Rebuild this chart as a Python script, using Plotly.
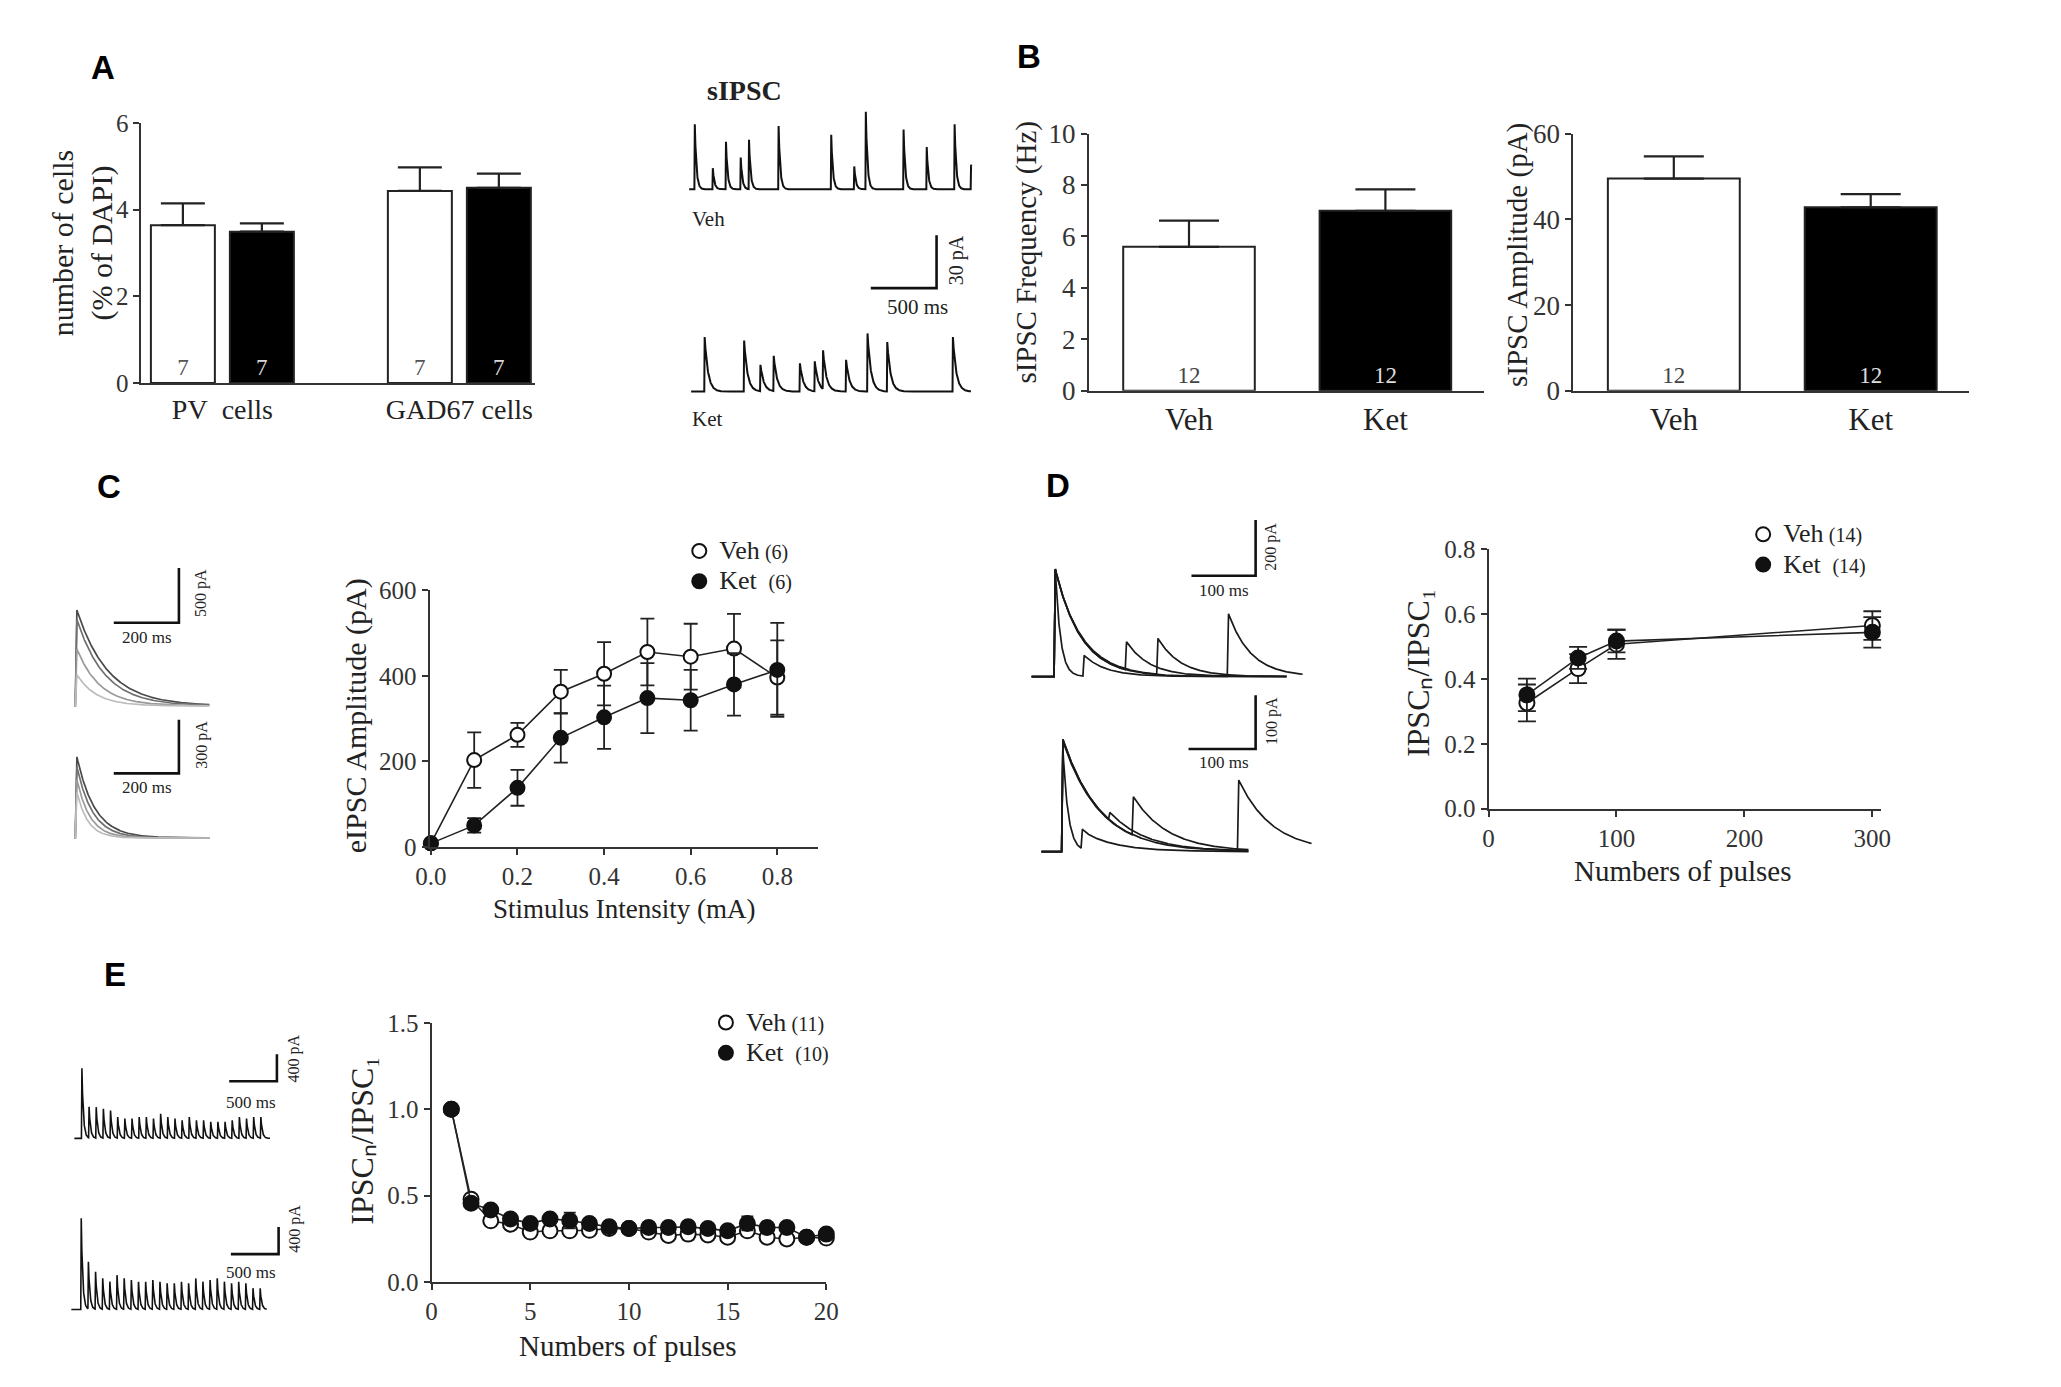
import numpy as np
import plotly.graph_objects as go

W, H = 2061, 1387
SERIF = "Liberation Serif"
SANS = "Liberation Sans"
INK = "#222222"

# ---------------- data ----------------
# A: cell counts
a_groups = ["PV\u00a0 cells", "GAD67 cells"]
a_veh_mean = [3.64, 4.43]
a_veh_sem = [0.50, 0.54]
a_ket_mean = [3.49, 4.50]
a_ket_sem = [0.19, 0.33]
a_n = [7, 7]

# A: sIPSC example traces (peak time ms, amplitude pA)
sipsc_veh_t = [43, 180, 280, 392, 455, 680, 1080, 1255, 1343, 1630, 1806, 2018, 2143]
sipsc_veh_a = [37, 12, 27, 18, 28, 36, 31, 13, 44, 34, 24, 37, 14]
sipsc_ket_t = [118, 418, 542, 643, 842, 955, 1018, 1193, 1356, 1506, 2005]
sipsc_ket_a = [31, 29, 15, 20, 16, 17, 22, 18, 33, 28, 31]
sipsc_scale = [500, 30]  # ms, pA

# B: sIPSC frequency / amplitude
b_groups = ["Veh", "Ket"]
b_freq_mean = [5.6, 7.0]
b_freq_sem = [1.02, 0.83]
b_amp_mean = [49.5, 42.8]
b_amp_sem = [5.2, 3.1]
b_n = [12, 12]

# C: eIPSC input-output
c_x = [0.0, 0.1, 0.2, 0.3, 0.4, 0.5, 0.6, 0.7, 0.8]
c_veh = [8, 203, 262, 363, 405, 456, 445, 464, 396]
c_veh_sem = [5, 65, 28, 51, 74, 78, 77, 81, 87]
c_ket = [8, 50, 138, 255, 303, 348, 343, 380, 414]
c_ket_sem = [5, 17, 42, 58, 74, 82, 71, 73, 110]
c_top_amp = [875, 790, 520, 285]
c_top_tau = [95, 85, 70, 60]
c_bot_amp = [453, 398, 327, 256]
c_bot_tau = [55, 48, 40, 34]
c_trace_colors = ["#4a4a4a", "#707070", "#9a9a9a", "#bcbcbc"]
c_top_scale = [200, 500]
c_bot_scale = [200, 300]

# D: paired pulse
d_x = [30, 70, 100, 300]
d_veh = [0.326, 0.432, 0.507, 0.565]
d_veh_sem = [0.057, 0.045, 0.045, 0.044]
d_ket = [0.351, 0.465, 0.517, 0.544]
d_ket_sem = [0.050, 0.034, 0.035, 0.047]
d_top_a1 = [386, 386, 380, 386]
d_top_tau1 = [8, 40, 42, 40]
d_top_t2 = [45, 111, 160, 270]
d_top_peak2 = [76, 125, 137, 225]
d_top_end = [398, 398, 398, 423]
d_bot_a1 = [190, 209, 205, 209]
d_bot_tau1 = [8, 55, 55, 55]
d_bot_t2 = [29, 70, 105, 262]
d_bot_peak2 = [42, 73, 102, 133]
d_bot_end = [309, 309, 309, 403]
d_top_scale = [100, 200]
d_bot_scale = [100, 100]

# E: train
e_x = list(range(1, 21))
e_veh = [1.0, 0.48, 0.355, 0.335, 0.29, 0.297, 0.297, 0.30, 0.31, 0.31,
         0.29, 0.27, 0.278, 0.273, 0.26, 0.297, 0.26, 0.25, 0.26, 0.255]
e_veh_sem = [0.0, 0.03, 0.02, 0.02, 0.02, 0.02, 0.02, 0.02, 0.02, 0.02,
             0.02, 0.02, 0.03, 0.02, 0.02, 0.03, 0.02, 0.03, 0.02, 0.02]
e_ket = [1.0, 0.457, 0.417, 0.366, 0.34, 0.366, 0.357, 0.34, 0.32, 0.31,
         0.316, 0.316, 0.32, 0.31, 0.297, 0.34, 0.316, 0.316, 0.26, 0.278]
e_ket_sem = [0.0, 0.03, 0.02, 0.02, 0.02, 0.02, 0.045, 0.02, 0.02, 0.025,
             0.03, 0.02, 0.025, 0.02, 0.02, 0.04, 0.02, 0.02, 0.02, 0.02]
e_top_amp = [1039, 459, 459, 435, 410, 314, 290, 290, 314, 314, 290, 362, 314,
             290, 265, 314, 265, 265, 242, 242, 242, 265, 314, 290, 314, 314]
e_bot_amp = [1352, 700, 555, 459, 410, 507, 459, 435, 410, 410, 435, 410, 387,
             387, 410, 387, 459, 410, 435, 459, 410, 387, 410, 387, 314, 314]
e_interval = 75
e_scale = [500, 400]

RATIO_TITLE = "IPSC\u2099/IPSC\u2081"

# ---------------- helpers ----------------
fig = go.Figure()
axes = {}
ann = []


def names(i):
    if i == 1:
        return "xaxis", "yaxis", "x", "y"
    return f"xaxis{i}", f"yaxis{i}", f"x{i}", f"y{i}"


def chart_axes(i, box, xr, yr, xextra, yextra):
    x0, x1, y0, y1 = box
    xn, yn, xa, ya = names(i)
    base = dict(showline=True, linecolor="#333333", linewidth=2, showgrid=False,
                zeroline=False, ticks="outside", ticklen=6, tickwidth=2,
                tickcolor="#333333", fixedrange=True)
    axes[xn] = dict(base, domain=[x0 / W, x1 / W], range=xr, anchor=ya, **xextra)
    axes[yn] = dict(base, domain=[1 - y1 / H, 1 - y0 / H], range=yr, anchor=xa, **yextra)
    return xa, ya


def canvas(i, box, origin, sx, sy):
    x0, x1, y0, y1 = box
    ox, oy = origin
    xn, yn, xa, ya = names(i)
    axes[xn] = dict(domain=[x0 / W, x1 / W], range=[(x0 - ox) / sx, (x1 - ox) / sx],
                    visible=False, anchor=ya, fixedrange=True)
    axes[yn] = dict(domain=[1 - y1 / H, 1 - y0 / H], range=[(oy - y1) / sy, (oy - y0) / sy],
                    visible=False, anchor=xa, fixedrange=True)
    conv = lambda px, py: ((px - ox) / sx, (oy - py) / sy)
    return xa, ya, conv


def psc(t, peaks, amps, tau, rise):
    y = np.zeros_like(t, dtype=float)
    for tp, a in zip(peaks, amps):
        d = t - (tp - rise)
        y += np.where(d < 0, 0.0, np.where(d < rise, a * d / rise, a * np.exp(-(d - rise) / tau)))
    return y


def line(xa, ya, x, y, color=INK, width=1.6):
    fig.add_trace(go.Scatter(x=x, y=y, mode="lines", line=dict(color=color, width=width),
                             xaxis=xa, yaxis=ya, showlegend=False, hoverinfo="skip"))


def scalebar(xa, ya, conv, corner_px, scale):
    cx, cy = conv(*corner_px)
    line(xa, ya, [cx - scale[0], cx, cx], [cy, cy, cy + scale[1]], color="#111111", width=2.6)


def txt(x, y, s, size, family=SERIF, angle=0, xanchor="center", color=INK):
    ann.append(dict(x=x / W, y=1 - y / H, xref="paper", yref="paper", text=s, showarrow=False,
                    font=dict(family=family, size=size, color=color), textangle=angle,
                    xanchor=xanchor, yanchor="middle"))


def bar(xa, ya, x, y, sem, colors, labels, label_colors, width, capw):
    fig.add_trace(go.Bar(x=x, y=y, width=width, xaxis=xa, yaxis=ya, showlegend=False,
                         marker=dict(color=colors, line=dict(color="#222", width=2)),
                         text=labels, textposition="inside", insidetextanchor="start",
                         textangle=0, constraintext="none",
                         textfont=dict(family=SERIF, size=23, color=label_colors),
                         error_y=dict(type="data", array=sem, arrayminus=[0] * len(sem),
                                      symmetric=False, color="#222", thickness=2.2, width=capw)))


# ---------------- A: bars ----------------
xa, ya = chart_axes(1, (121, 520, 102, 368), [-0.525, 4.46], [0, 6],
                    dict(ticks="", tickvals=[0.5, 3.5], ticktext=a_groups,
                         tickfont=dict(family=SERIF, size=28, color=INK)),
                    dict(tickvals=[0, 2, 4, 6], tickfont=dict(family=SERIF, size=25, color="#333")))
a_pos_veh = [3 * k for k in range(len(a_groups))]
a_pos_ket = [3 * k + 1 for k in range(len(a_groups))]
bar(xa, ya, a_pos_veh, a_veh_mean, a_veh_sem, "white", [str(n) for n in a_n], "#555", 0.81, 22)
bar(xa, ya, a_pos_ket, a_ket_mean, a_ket_sem, "black", [str(n) for n in a_n], "#d8d8d8", 0.81, 22)

# sIPSC traces
xa, ya, conv = canvas(7, (650, 1000, 60, 430), (676, 170), 0.1333, 1.8)
t = np.arange(0, 2145, 1.0)
line(xa, ya, t, psc(t, sipsc_veh_t, sipsc_veh_a, 12, 3), color="#111", width=2.0)
ket_base = conv(676, 376.7)[1]
t = np.arange(15, 2143, 1.0)
line(xa, ya, t, ket_base + psc(t, sipsc_ket_t, sipsc_ket_a, 25, 3), color="#111", width=2.0)
scalebar(xa, ya, conv, (926.7, 271), sipsc_scale)
txt(732, 69, "<b>sIPSC</b>", 28)
txt(677, 200, "Veh", 21, xanchor="left")
txt(677, 405, "Ket", 21, xanchor="left")
txt(947, 243, "30 pA", 20, angle=-90)
txt(907, 290, "500 ms", 21)

# ---------------- B ----------------
for i, box, mean, sem, yr, tv in [(2, (1081, 1481, 113, 376), b_freq_mean, b_freq_sem, [0, 10], [0, 2, 4, 6, 8, 10]),
                                  (3, (1572, 1973, 113, 376), b_amp_mean, b_amp_sem, [0, 60], [0, 20, 40, 60])]:
    xa, ya = chart_axes(i, box, [-0.51, 1.5], yr,
                        dict(ticks="", type="category", tickfont=dict(family=SERIF, size=31, color=INK)),
                        dict(tickvals=tv, tickfont=dict(family=SERIF, size=27, color="#333")))
    bar(xa, ya, b_groups, mean, sem, ["white", "black"], [str(n) for n in b_n],
        ["#444", "#dddddd"], 0.67, 30)

# ---------------- line charts ----------------
def legend_name(label, n):
    return (f'<span style="font-size:26px">{label}</span>\u00a0'
            f'<span style="font-size:20px">({n})</span>')


def series(xa, ya, x, y, sem, filled, legend, name, size=15, capw=7):
    fig.add_trace(go.Scatter(x=x, y=y, mode="lines+markers", xaxis=xa, yaxis=ya, showlegend=False,
                             cliponaxis=False, line=dict(color=INK, width=1.6),
                             marker=dict(symbol="circle", size=size,
                                         color="#111" if filled else "white",
                                         line=dict(color="#111", width=2)),
                             error_y=dict(type="data", array=sem, color=INK, thickness=1.8, width=capw)))
    fig.add_trace(go.Scatter(x=[None], y=[None], mode="markers", xaxis=xa, yaxis=ya, name=name,
                             legend=legend, showlegend=True,
                             marker=dict(symbol="circle", size=14,
                                         color="#111" if filled else "white",
                                         line=dict(color="#111", width=2))))


tick_serif = dict(family=SERIF, size=25, color="#333")

# C chart
xa, ya = chart_axes(4, (413, 807, 580, 842), [-0.003, 0.895], [0, 600],
                    dict(tickvals=[0, 0.2, 0.4, 0.6, 0.8], tickformat=".1f", tickfont=tick_serif),
                    dict(tickvals=[0, 200, 400, 600], tickfont=tick_serif))
series(xa, ya, c_x, c_veh, c_veh_sem, False, "legend", legend_name("Veh", 6), size=14)
series(xa, ya, c_x, c_ket, c_ket_sem, True, "legend", legend_name("Ket\u00a0", 6), size=14)
txt(338, 708, "eIPSC Amplitude (pA)", 30, angle=-90)
txt(611, 906, "Stimulus Intensity (mA)", 27)

# C traces
xa, ya, conv = canvas(8, (30, 220, 540, 705), (53, 698), 0.33, 0.112)
t = np.arange(0, 415, 0.5)
for k in range(len(c_top_amp)):
    line(xa, ya, t, psc(t, [8], [c_top_amp[k]], c_top_tau[k], 5), color=c_trace_colors[k], width=1.7)
scalebar(xa, ya, conv, (159, 613), c_top_scale)
xa, ya, conv = canvas(9, (30, 220, 705, 850), (53, 833), 0.33, 0.183)
for k in range(len(c_bot_amp)):
    line(xa, ya, t, psc(t, [8], [c_bot_amp[k]], c_bot_tau[k], 5), color=c_trace_colors[k], width=1.7)
scalebar(xa, ya, conv, (159, 767), c_bot_scale)
txt(182, 583, "500 pA", 16, angle=-90)
txt(127, 628, "200 ms", 17)
txt(182, 738, "300 pA", 16, angle=-90)
txt(127, 781, "200 ms", 17)

# D chart
xa, ya = chart_axes(5, (1486, 1884, 538, 803), [0, 307], [0, 0.8],
                    dict(tickvals=[0, 100, 200, 300], tickfont=tick_serif),
                    dict(tickvals=[0, 0.2, 0.4, 0.6, 0.8], tickformat=".1f", tickfont=tick_serif))
series(xa, ya, d_x, d_veh, d_veh_sem, False, "legend2", legend_name("Veh", 14), capw=9)
series(xa, ya, d_x, d_ket, d_ket_sem, True, "legend2", legend_name("Ket\u00a0", 14), capw=9)
txt(1414, 664, RATIO_TITLE, 32, angle=-90)
txt(1683, 867, "Numbers of pulses", 29)

# D traces
for i, box, origin, sx, sy, a1, tau1, t2, p2, ends, tau2, pk, corner, sc in [
        (10, (1015, 1320, 495, 680), (1023, 668), 0.65, 0.285, d_top_a1, d_top_tau1, d_top_t2,
         d_top_peak2, d_top_end, 35, 37, (1250, 565), d_top_scale),
        (11, (1015, 1320, 680, 860), (1033, 847), 0.68, 0.55, d_bot_a1, d_bot_tau1, d_bot_t2,
         d_bot_peak2, d_bot_end, 50, 32, (1250, 742), d_bot_scale)]:
    xa, ya, conv = canvas(i, box, origin, sx, sy)
    for k in range(len(a1)):
        t = np.arange(0, ends[k], 0.5)
        y = psc(t, [pk], [a1[k]], tau1[k], 2)
        a2 = max(p2[k] - a1[k] * np.exp(-t2[k] / tau1[k]), 0)
        y = y + psc(t, [pk + t2[k]], [a2], tau2, 2)
        line(xa, ya, t, y, color="#1a1a1a", width=1.7)
    scalebar(xa, ya, conv, corner, sc)
txt(1266, 535, "200 pA", 16, angle=-90)
txt(1218, 580, "100 ms", 17)
txt(1266, 713, "100 pA", 16, angle=-90)
txt(1218, 756, "100 ms", 17)

# E chart
xa, ya = chart_axes(6, (415, 815, 1022, 1287), [0, 20], [0, 1.5],
                    dict(tickvals=[0, 5, 10, 15, 20], tickfont=tick_serif),
                    dict(tickvals=[0, 0.5, 1.0, 1.5], tickformat=".1f", tickfont=tick_serif))
series(xa, ya, e_x, e_veh, e_veh_sem, False, "legend3", legend_name("Veh", 11), capw=6)
series(xa, ya, e_x, e_ket, e_ket_sem, True, "legend3", legend_name("Ket\u00a0", 10), capw=6)
txt(345, 1142, RATIO_TITLE, 32, angle=-90)
txt(614, 1352, "Numbers of pulses", 29)

# E traces
xa, ya, conv = canvas(12, (35, 300, 1040, 1340), (55, 1140), 0.0967, 0.069)
e_pk = [59 + e_interval * k for k in range(len(e_top_amp))]
t = np.arange(-20, 2031, 1.0)
line(xa, ya, t, psc(t, e_pk, e_top_amp, 15, 5), color="#111", width=1.6)
bot_base = conv(55, 1315)[1]
e_pk_b = [52 + e_interval * k for k in range(len(e_bot_amp))]
t = np.arange(-52, 1996, 1.0)
line(xa, ya, t, bot_base + psc(t, e_pk_b, e_bot_amp, 15, 5), color="#111", width=1.6)
scalebar(xa, ya, conv, (258.3, 1081.7), e_scale)
scalebar(xa, ya, conv, (260, 1258.3), e_scale)
txt(276, 1058, "400 pA", 16, angle=-90)
txt(232, 1103, "500 ms", 17)
txt(277, 1232, "400 pA", 16, angle=-90)
txt(232, 1277, "500 ms", 17)

# ---------------- panel letters and bar titles ----------------
for s, x, y in [("A", 82, 45), ("B", 1020, 34), ("C", 88, 474), ("D", 1050, 473), ("E", 94, 973)]:
    txt(x, y, f"<b>{s}</b>", 33, family=SANS, color="#000")
txt(61, 225, "number of cells<br>(% of DAPI)", 30, angle=-90)
txt(1018, 234, "sIPSC Frequency (Hz)", 29, angle=-90)
txt(1516, 237, "sIPSC Amplitude (pA)", 29, angle=-90)


def legend_at(mx, my):
    return dict(x=(mx - 22) / W, y=1 - (my - 21) / H, xanchor="left", yanchor="top",
                font=dict(family=SERIF, size=21, color=INK), bgcolor="rgba(0,0,0,0)",
                itemwidth=30, tracegroupgap=0, traceorder="normal", borderwidth=0)


fig.update_layout(width=W, height=H, margin=dict(l=0, r=0, t=0, b=0),
                  paper_bgcolor="white", plot_bgcolor="rgba(0,0,0,0)", showlegend=True,
                  uniformtext=dict(mode=False),
                  annotations=ann, legend=legend_at(688, 540), legend2=legend_at(1766, 523),
                  legend3=legend_at(715, 1022), **axes)
fig.write_html("out.html")
